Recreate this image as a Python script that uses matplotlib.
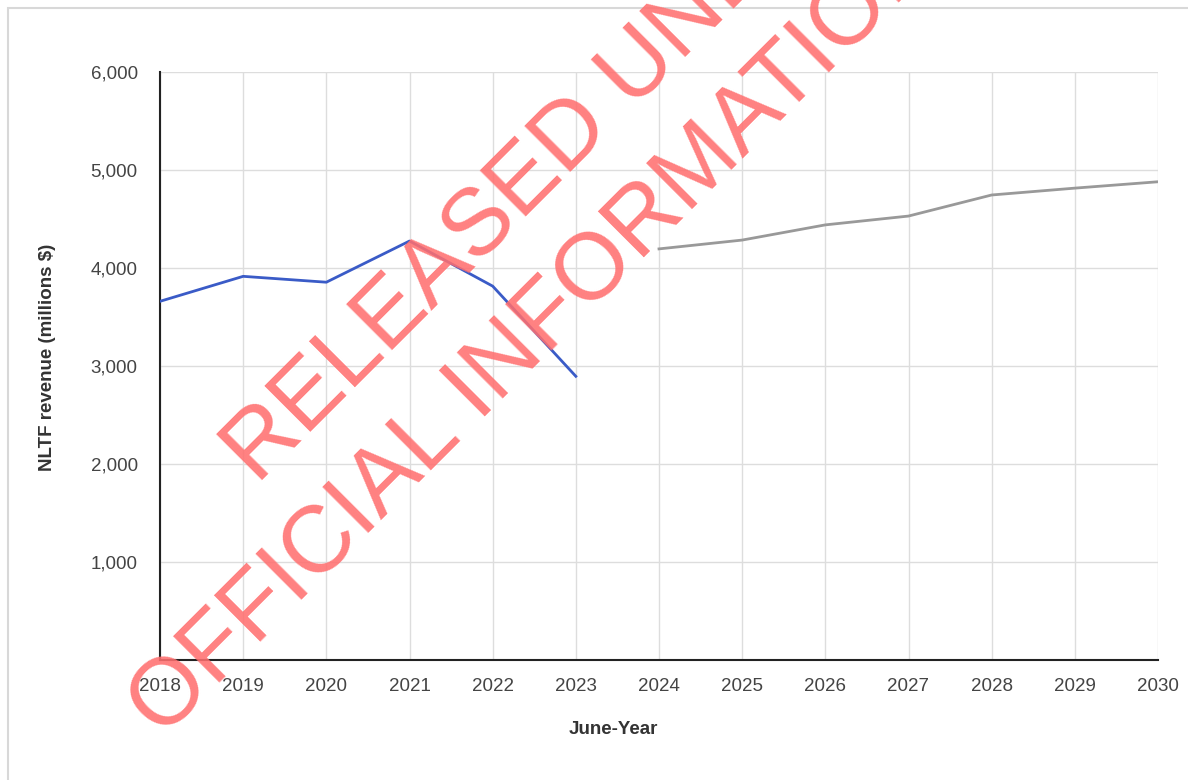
import matplotlib
matplotlib.use("Agg")
import matplotlib.pyplot as plt
from matplotlib.patches import Rectangle

# NLTF revenue, millions $
actual_years = [2018, 2019, 2020, 2021, 2022, 2023]
actual_revenue = [3660, 3915, 3855, 4275, 3815, 2895]

forecast_years = [2024, 2025, 2026, 2027, 2028, 2029, 2030]
forecast_revenue = [4195, 4285, 4440, 4530, 4745, 4815, 4880]

year_ticks = list(range(2018, 2031))
revenue_ticks = [0, 1000, 2000, 3000, 4000, 5000, 6000]
revenue_labels = ["", "1,000", "2,000", "3,000", "4,000", "5,000", "6,000"]

plt.rcParams['font.family'] = ['Liberation Sans', 'DejaVu Sans']

W, H = 1188, 780
fig = plt.figure(figsize=(W / 100, H / 100), dpi=100)
ax = fig.add_axes([160 / W, 1 - 660 / H, 998 / W, 588 / H])

# light screenshot frame (only top and left edges show)
fig.patches.append(Rectangle((8 / W, -0.05), 1.1, 1.05 - 8 / H, transform=fig.transFigure,
                             fill=False, edgecolor='#d8d8d8', linewidth=1.5))

ax.plot(actual_years, actual_revenue, color='#3a5bc7', linewidth=2.0, zorder=3)
ax.plot(forecast_years, forecast_revenue, color='#999999', linewidth=2.0, zorder=3)

ax.set_xlim(2018, 2030)
ax.set_ylim(0, 6000)
ax.set_xticks(year_ticks)
ax.set_xticklabels([str(y) for y in year_ticks])
ax.set_yticks(revenue_ticks)
ax.set_yticklabels(revenue_labels)

ax.grid(True, color='#dddddd', linewidth=1.0)
ax.set_axisbelow(True)
for s in ['top', 'right']:
    ax.spines[s].set_visible(False)
ax.spines['left'].set_color('#222222')
ax.spines['bottom'].set_color('#222222')
ax.spines['left'].set_linewidth(1.5)
ax.spines['bottom'].set_linewidth(1.5)

ax.tick_params(axis='both', length=0, labelsize=13.5, labelcolor='#444444')
ax.tick_params(axis='y', pad=16)
ax.tick_params(axis='x', pad=13)

ax.set_xlabel('June-Year', fontsize=13.5, fontweight='bold', color='#333333')
ax.xaxis.set_label_coords((613 - 160) / 998, -0.104)
ax.set_ylabel('NLTF revenue (millions $)', fontsize=13.5, fontweight='bold', color='#333333')
ax.yaxis.set_label_coords(-0.104, 0.515)

# watermark (baseline start of each line, in pixels from top-left)
wm_color = '#ff6f6f'
fig.text(257 / W, 1 - 485 / H, 'RELEASED UNDER', fontsize=68, color=wm_color,
         alpha=0.88, rotation=45, ha='left', va='baseline', rotation_mode='anchor', zorder=10)
fig.text(162 / W, 1 - 739 / H, 'OFFICIAL INFORMATION', fontsize=68, color=wm_color,
         alpha=0.88, rotation=45, ha='left', va='baseline', rotation_mode='anchor', zorder=10)

fig.savefig('out.png', dpi=100)
